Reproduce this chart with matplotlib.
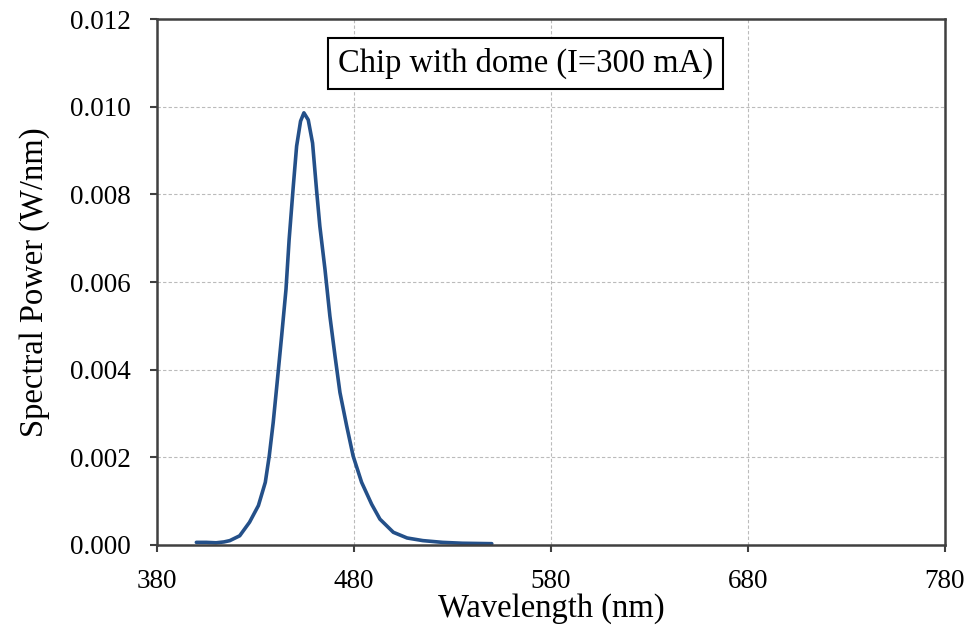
import matplotlib.pyplot as plt
import numpy as np

# spectrum
wavelength = [400, 405, 410, 414, 417, 422, 427, 431.5, 435, 437, 439, 441, 443.3, 445.5,
              447.1, 449.2, 450.9, 452.9, 454.6, 456.8, 459, 461, 462.7, 465.3, 467.8,
              470.4, 472.9, 476.3, 479.6, 483.9, 489, 493.2, 500, 507, 515, 525, 535, 550]
power = [0.00006, 0.00006, 0.00005, 0.00007, 0.00010, 0.00021, 0.00052, 0.00090, 0.00143,
         0.00203, 0.00279, 0.00370, 0.00477, 0.00583, 0.00697, 0.00818, 0.00910, 0.00967,
         0.00986, 0.00970, 0.00917, 0.00811, 0.00727, 0.00629, 0.00522, 0.00431, 0.00348,
         0.00272, 0.00203, 0.00143, 0.00093, 0.00059, 0.00029, 0.00016, 0.00010, 0.00006,
         0.00004, 0.00003]

x_ticks = [380, 480, 580, 680, 780]
y_ticks = [0.000, 0.002, 0.004, 0.006, 0.008, 0.010, 0.012]

plt.rcParams['font.family'] = ['Liberation Serif', 'DejaVu Serif']

fig = plt.figure(figsize=(9.72, 6.31), dpi=100)
ax = fig.add_axes([0.1615, 0.1363, 0.8105, 0.8335])

ax.plot(wavelength, power, color='#245089', linewidth=2.6,
        solid_capstyle='round', solid_joinstyle='round')

ax.set_xlim(380, 780)
ax.set_ylim(0, 0.012)
ax.set_xticks(x_ticks)
ax.set_yticks(y_ticks)
ax.set_yticklabels([f'{v:.3f}' for v in y_ticks])
ax.tick_params(labelsize=19.5, length=5, width=1.5, color='#404040', direction='out')
ax.tick_params(axis='x', pad=12)
ax.tick_params(axis='y', pad=14)
ax.grid(True, color='#bbbbbb', linestyle=(0, (3, 2)), linewidth=0.8)
for s in ax.spines.values():
    s.set_color('#404040')
    s.set_linewidth(1.8)

ax.set_xlabel('Wavelength (nm)', fontsize=23.5, labelpad=0)
ax.set_ylabel('Spectral Power (W/nm)', fontsize=23.5, labelpad=14)

ax.text(567, 0.01098, 'Chip with dome (I=300 mA)', fontsize=23.5, ha='center', va='center',
        bbox=dict(boxstyle='square,pad=0.3', facecolor='white', edgecolor='black', linewidth=1.5))

fig.savefig('out.png', dpi=100)
